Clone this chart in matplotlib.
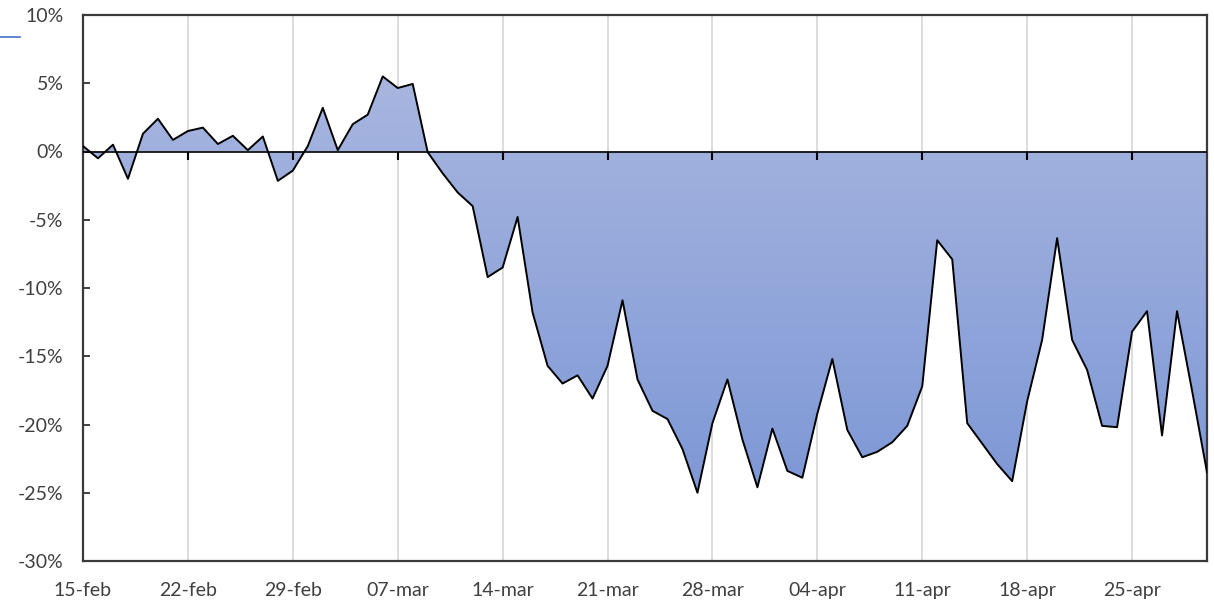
import numpy as np
import pandas as pd
import matplotlib
matplotlib.use("Agg")
import matplotlib.pyplot as plt
import matplotlib.dates as mdates
from matplotlib.colors import LinearSegmentedColormap
from matplotlib.lines import Line2D

# daily change vs. baseline, 15-feb .. 30-apr 2020 (%)
dates = pd.date_range("2020-02-15", "2020-04-30", freq="D")
values = [0.4, -0.5, 0.5, -2.0, 1.3, 2.4, 0.85, 1.5, 1.75, 0.55,
          1.15, 0.1, 1.1, -2.15, -1.4, 0.4, 3.2, 0.1, 2.0, 2.7,
          5.5, 4.65, 4.95, -0.05, -1.6, -3.0, -4.0, -9.2, -8.5, -4.8,
          -11.8, -15.7, -17.0, -16.4, -18.1, -15.7, -10.9, -16.7, -19.0, -19.6,
          -21.8, -25.0, -19.9, -16.7, -21.1, -24.6, -20.3, -23.4, -23.9, -19.2,
          -15.2, -20.4, -22.4, -22.0, -21.3, -20.1, -17.2, -6.5, -7.9, -19.9,
          -21.4, -22.9, -24.15, -18.3, -13.8, -6.35, -13.8, -16.0, -20.1, -20.2,
          -13.2, -11.7, -20.8, -11.7, -17.5, -23.5]
week_ticks = pd.date_range("2020-02-15", "2020-04-25", freq="7D")
y_ticks = [10, 5, 0, -5, -10, -15, -20, -25, -30]

plt.rcParams['font.family'] = ['Lato', 'DejaVu Sans']

fig = plt.figure(figsize=(12.14, 6.05), dpi=100)
ax = fig.add_axes([83/1214, 1 - 561/605, (1207 - 83)/1214, (561 - 15)/605])

x = mdates.date2num(dates)
v = np.array(values)

# area with vertical gradient
poly = ax.fill_between(x, v, 0, facecolor="none", edgecolor="none")
cmap = LinearSegmentedColormap.from_list("g", ["#a8b6df", "#7e98d6"])
grad = np.linspace(0, 1, 256).reshape(-1, 1)
img = ax.imshow(grad, cmap=cmap, aspect="auto", origin="upper",
                extent=[x[0], x[-1], v.min(), v.max()], zorder=1)
img.set_clip_path(poly.get_paths()[0], transform=ax.transData)

ax.plot(x, v, color="black", lw=1.4, zorder=3)
ax.axhline(0, color="black", lw=1.2, zorder=3)
ax.plot(mdates.date2num(week_ticks[1:]), np.zeros(len(week_ticks) - 1),
        linestyle="none", marker=3, markersize=6, markeredgewidth=1.5,
        color="black", zorder=3, clip_on=False)

ax.set_xlim(x[0], x[-1])
ax.set_ylim(-30, 10)

ax.set_xticks(mdates.date2num(week_ticks))
ax.set_xticklabels([d.strftime("%d-%b").lower() for d in week_ticks])
ax.set_yticks(y_ticks)
ax.set_yticklabels([f"{t}%" for t in y_ticks])

ax.grid(axis="x", color="#d9d9d9", lw=1.3, zorder=0)
ax.set_axisbelow(True)
ax.tick_params(axis="x", length=0, pad=15, labelsize=14, labelcolor="#404040")
ax.tick_params(axis="y", direction="in", length=5, width=1.3, pad=14,
               labelsize=14, labelcolor="#404040", color="#333333")
for s in ax.spines.values():
    s.set_color("#3a3a3a")
    s.set_linewidth(1.6)

# stray legend stub at top-left
fig.add_artist(Line2D([0, 20/1214], [1 - 37/605] * 2, color="#4472c4", lw=1.2))

fig.savefig("out.png", dpi=100)
